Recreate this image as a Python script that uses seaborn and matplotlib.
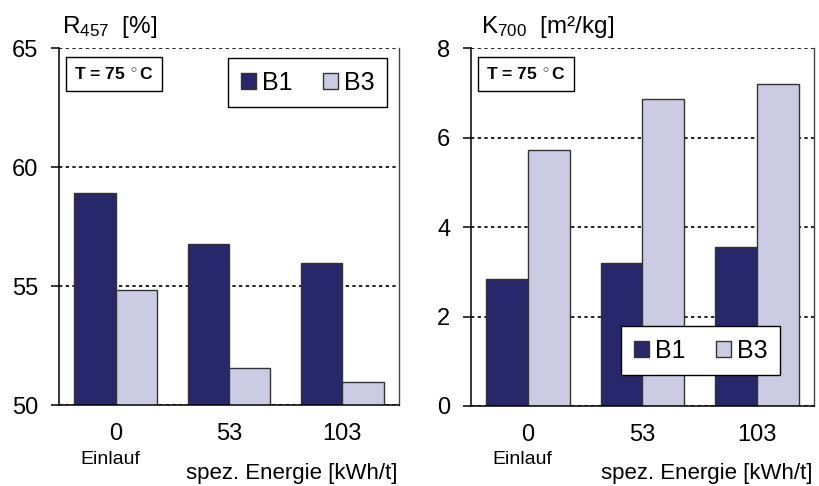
import matplotlib
matplotlib.use("Agg")
import matplotlib.pyplot as plt
import matplotlib.transforms as mtransforms
import seaborn as sns
import pandas as pd

# ---- data ----
energie = ["0", "53", "103"]
serien = ["B1", "B3"]
r457_b1 = [58.9, 56.75, 55.95]
r457_b3 = [54.85, 51.55, 50.95]
k700_b1 = [2.84, 3.19, 3.55]
k700_b3 = [5.73, 6.87, 7.20]
r457_ticks = [50, 55, 60, 65]
k700_ticks = [0, 2, 4, 6, 8]
farben = ["#27276C", "#CBCBE4"]

sns.set_theme(style="white")
plt.rcParams["font.family"] = ["Liberation Sans", "DejaVu Sans"]
plt.rcParams["mathtext.fontset"] = "custom"
plt.rcParams["mathtext.rm"] = "Liberation Sans"
plt.rcParams["mathtext.it"] = "Liberation Sans"
plt.rcParams["text.color"] = "black"
plt.rcParams["xtick.color"] = "black"
plt.rcParams["ytick.color"] = "black"
plt.rcParams["axes.labelcolor"] = "black"


def long_df(b1, b3):
    rows = []
    for e, v in zip(energie, b1):
        rows.append({"energie": e, "serie": "B1", "wert": v})
    for e, v in zip(energie, b3):
        rows.append({"energie": e, "serie": "B3", "wert": v})
    return pd.DataFrame(rows)


W, H = 820, 486
fig = plt.figure(figsize=(W / 100, H / 100), dpi=100)
ax1 = fig.add_axes([59 / W, 1 - 405 / H, 340 / W, 357 / H])
ax2 = fig.add_axes([471 / W, 1 - 406 / H, 343 / W, 358 / H])


def style_axis(ax, df, ticks, title, title_x, leg_loc, leg_anchor):
    sns.barplot(data=df, x="energie", y="wert", hue="serie", order=energie,
                hue_order=serien, palette=farben, width=0.73,
                edgecolor="#333333", linewidth=1.0, ax=ax, saturation=1)
    ax.set_ylim(ticks[0], ticks[-1])
    ax.set_yticks(ticks)
    ax.set_yticklabels([str(t) for t in ticks])
    ax.set_xlabel("")
    ax.set_ylabel("")
    ax.set_axisbelow(True)
    ax.yaxis.grid(True, color="black", linestyle=(0, (2, 2)), linewidth=1.2)
    ax.xaxis.grid(False)
    for s in ["left", "bottom"]:
        ax.spines[s].set_color("black")
        ax.spines[s].set_linewidth(1.1)
    ax.spines["top"].set_visible(False)
    ax.spines["right"].set_color("#444444")
    ax.spines["right"].set_linewidth(1.0)
    ax.tick_params(axis="y", which="both", left=True, length=6, width=1.1,
                   direction="out", pad=9, labelsize=17, color="black",
                   labelcolor="black")
    ax.tick_params(axis="x", bottom=False, length=0, pad=13, labelsize=17,
                   labelcolor="black")
    # legend
    handles, labels = ax.get_legend_handles_labels()
    if ax.get_legend() is not None:
        ax.get_legend().remove()
    leg = ax.legend(handles, labels, loc=leg_loc, bbox_to_anchor=leg_anchor,
                    borderaxespad=0, ncol=2, fontsize=18, frameon=True,
                    fancybox=False, framealpha=1, edgecolor="black",
                    handlelength=0.6, handleheight=0.6, handletextpad=0.25,
                    columnspacing=1.2, borderpad=0.5)
    leg.get_frame().set_linewidth(1.0)
    # temperature box
    ax.text(0.045, 0.95, "T = 75 $^\\circ$C", transform=ax.transAxes,
            ha="left", va="top", fontsize=12.5, fontweight="bold",
            bbox=dict(boxstyle="square,pad=0.5", facecolor="white",
                      edgecolor="black", linewidth=1.0))
    # axis title
    fig.text(title_x / W, 1 - 33 / H, title, ha="left", va="baseline",
             fontsize=17.5)
    # Einlauf + x label
    trans = mtransforms.blended_transform_factory(ax.transData, fig.transFigure)
    ax.text(-0.05, 1 - 459 / H, "Einlauf", transform=trans, ha="center",
            va="center", fontsize=14)
    trans2 = mtransforms.blended_transform_factory(ax.transAxes, fig.transFigure)
    ax.text(0.995, 1 - 473 / H, "spez. Energie [kWh/t]", transform=trans2,
            ha="right", va="center", fontsize=16)


style_axis(ax1, long_df(r457_b1, r457_b3), r457_ticks,
           "R$_{\\mathrm{457}}$  [%]", 62,
           "upper right", ((387 - 59) / 340, (405 - 58) / 357))
style_axis(ax2, long_df(k700_b1, k700_b3), k700_ticks,
           "K$_{\\mathrm{700}}$  [m²/kg]", 481,
           "lower right", ((780 - 471) / 343, (406 - 375) / 358))

fig.savefig("out.png", dpi=100)
